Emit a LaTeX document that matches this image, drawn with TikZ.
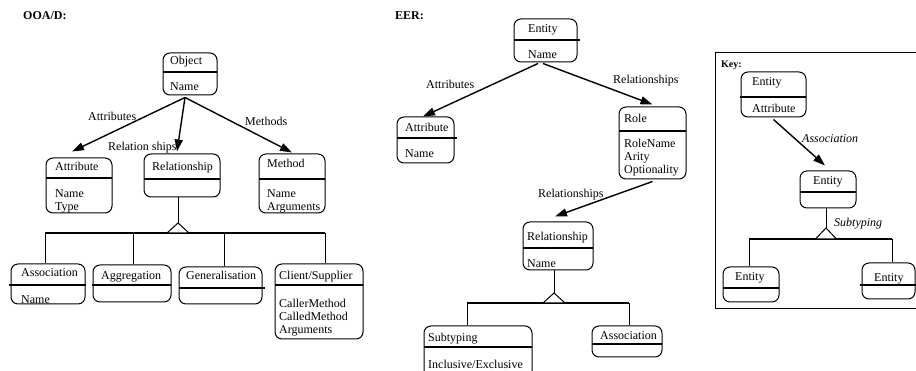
\documentclass[tikz,border=0pt]{standalone}
\usepackage{fontspec}
\setmainfont{Liberation Serif}
\usetikzlibrary{arrows.meta}
\tikzset{
 box/.style={draw, rounded corners=7pt, line width=1pt, inner sep=0pt},
 divider/.style={line width=2pt},
 lbl/.style={anchor=base west, inner sep=0pt, font=\fontsize{12}{13}\selectfont},
 title/.style={lbl, font=\bfseries\fontsize{12}{13}\selectfont},
 conn/.style={line width=1.4pt, -{Triangle[length=12pt,width=8pt]}},
 tree/.style={line width=1pt},
 bar/.style={line width=2pt},
 tri/.style={line width=1pt, fill=white},
}
\newcommand\ubox[5]{\node[box, minimum width={#4-#2}, minimum height={#5-#3}] (#1) at ({(#2+#4)/2},{(#3+#5)/2}) {};}
\begin{document}
\begin{tikzpicture}[x=1pt,y=-1pt]
\useasboundingbox (0,0) rectangle (916,371);
% ---------------- OOA/D
\node[title] (tooa) at (23,20) {OOA/D:};
\ubox{obj}{163}{53}{217}{95}
\draw[divider] (163,72) -- (217,72);
\node[lbl] (tobj) at (170,65) {Object};
\node[lbl] (tobjn) at (170,91) {Name};
\ubox{attr}{46}{158}{112}{213}
\draw[divider] (46,178) -- (112,178);
\node[lbl] (tattr) at (55,171) {Attribute};
\node[lbl] (tattra) at (55,198) {Name};
\node[lbl] (tattrb) at (55,211) {Type};
\ubox{rel}{144}{154}{220}{197}
\draw[divider] (144,179) -- (220,179);
\node[lbl] (trel) at (152,171) {Relationship};
\ubox{meth}{259}{154}{325}{213}
\draw[divider] (259,179) -- (325,179);
\node[lbl] (tmeth) at (267,168) {Method};
\node[lbl] (tmetha) at (267,198) {Name};
\node[lbl] (tmethb) at (267,211) {Arguments};
\ubox{assoc}{11}{264}{85}{304}
\draw[divider] (9,285) -- (86,285);
\node[lbl] (tassoc) at (21,277) {Association};
\node[lbl] (tassocn) at (21,304) {Name};
\ubox{aggr}{93}{265}{171}{302}
\draw[divider] (92,285) -- (171,285);
\node[lbl] (taggr) at (101,280) {Aggregation};
\ubox{gen}{179}{267}{262}{304}
\draw[divider] (179,288) -- (265,288);
\node[lbl] (tgen) at (186,280) {Generalisation};
\ubox{client}{275}{264}{363}{339}
\draw[divider] (275,285) -- (363,285);
\node[lbl] (tclient) at (279,280) {Client/Supplier};
\node[lbl] (tclienta) at (279,308) {CallerMethod};
\node[lbl] (tclientb) at (279,321) {CalledMethod};
\node[lbl] (tclientc) at (279,334) {Arguments};
\draw[conn] ([xshift=-5pt,yshift=-2pt]obj.south) -- ([xshift=-7pt,yshift=6pt]attr.north);
\draw[conn] ([xshift=-5pt,yshift=-2pt]obj.south) -- ([xshift=-5pt,yshift=2pt]rel.north);
\draw[conn] ([xshift=-5pt,yshift=-2pt]obj.south) -- ([yshift=1pt]meth.north);
\node[lbl] (lattr) at (88,121) {Attributes};
\node[lbl] (lrel) at (108,151) {Relation ships};
\node[lbl] (lmeth) at (245,126) {Methods};
\coordinate (apex1) at (178,223);
\coordinate (bar1L) at (45,233);
\coordinate (bar1b) at (133,233);
\coordinate (bar1c) at (224,233);
\coordinate (bar1R) at (325,233);
\draw[tree] ([xshift=-4pt]rel.south) -- (apex1);
\draw[bar] (bar1L) -- (bar1R);
\draw[tri] (apex1) -- ++(-11,10) -- ++(22,0) -- cycle;
\draw[tree] (bar1L) -- (bar1L |- assoc.north);
\draw[tree] (bar1b) -- (bar1b |- aggr.north);
\draw[tree] (bar1c) -- (bar1c |- gen.north);
\draw[tree] (bar1R) -- (bar1R |- client.north);
% ---------------- EER
\node[title] (teer) at (395,20) {EER:};
\ubox{ent}{514}{19}{577}{62}
\draw[divider] (514,40) -- (580,40);
\node[lbl] (tent) at (528,33) {Entity};
\node[lbl] (tentn) at (528,59) {Name};
\ubox{eattr}{397}{117}{454}{163}
\draw[divider] (397,138) -- (457,138);
\node[lbl] (teattr) at (405,132) {Attribute};
\node[lbl] (teattrn) at (405,158) {Name};
\ubox{role}{619}{107}{686}{179}
\draw[divider] (619,131) -- (686,131);
\node[lbl] (trole) at (624,123) {Role};
\node[lbl] (trolea) at (624,148) {RoleName};
\node[lbl] (troleb) at (624,161) {Arity};
\node[lbl] (trolec) at (624,174) {Optionality};
\ubox{erel}{523}{222}{593}{270}
\draw[divider] (523,248) -- (593,248);
\node[lbl] (terel) at (527,241) {Relationship};
\node[lbl] (tereln) at (527,268) {Name};
\ubox{subt}{424}{326}{532}{378}
\draw[divider] (424,347) -- (532,347);
\node[lbl] (tsubt) at (428,342) {Subtyping};
\node[lbl] (tsubtn) at (428,369) {Inclusive/Exclusive};
\ubox{eassoc}{592}{326}{662}{357}
\draw[divider] (592,344) -- (662,344);
\node[lbl] (teassoc) at (600,340) {Association};
\draw[conn] ([xshift=-7.5pt,yshift=-1pt]ent.south) -- ([xshift=-2.5pt]eattr.north);
\draw[conn] ([xshift=-2.5pt,yshift=-1pt]ent.south) -- ([yshift=2pt]role.north);
\draw[conn] ([yshift=-2pt]role.south) -- ([xshift=-3pt,yshift=5pt]erel.north);
\node[lbl] (leattr) at (426,89) {Attributes};
\node[lbl] (lerole) at (613,84) {Relationships};
\node[lbl] (lerel) at (538,198) {Relationships};
\coordinate (apex2) at (554,293);
\coordinate (bar2L) at (467,303);
\coordinate (bar2R) at (629,303);
\draw[tree] ([xshift=-4pt]erel.south) -- (apex2);
\draw[bar] (bar2L) -- (bar2R);
\draw[tri] (apex2) -- ++(-11,10) -- ++(22,0) -- cycle;
\draw[tree] (bar2L) -- (bar2L |- subt.north);
\draw[tree] (bar2R) -- (bar2R |- eassoc.north);
% ---------------- Key
\draw[line width=1pt] (925,53) -- (715,53) -- (715,309) -- (925,309);
\node[title, font=\bfseries\fontsize{10}{12}\selectfont] (tkey) at (721,68) {Key:};
\ubox{kone}{741}{72}{806}{117}
\draw[divider] (740,97) -- (806,97);
\node[lbl] (tkone) at (752,86) {Entity};
\node[lbl] (tkonea) at (752,113) {Attribute};
\ubox{ktwo}{800}{171}{856}{208}
\draw[divider] (800,192) -- (856,192);
\node[lbl] (tktwo) at (813,185) {Entity};
\ubox{kthree}{723}{267}{779}{302}
\draw[divider] (723,288) -- (779,288);
\node[lbl] (tkthree) at (735,281) {Entity};
\ubox{kfour}{862}{263}{915}{299}
\draw[divider] (860,285) -- (916,285);
\node[lbl] (tkfour) at (874,282) {Entity};
\draw[conn] ([yshift=-2pt]kone.south) -- ([xshift=-3pt,yshift=5pt]ktwo.north);
\node[lbl, font=\itshape\fontsize{12}{13}\selectfont] (lkassoc) at (802,143) {Association};
\node[lbl, font=\itshape\fontsize{12}{13}\selectfont] (lksub) at (834,227) {Subtyping};
\coordinate (apex3) at (826,228);
\coordinate (bar3L) at (749,239);
\coordinate (bar3R) at (892,239);
\draw[tree] ([xshift=-2pt]ktwo.south) -- (apex3);
\draw[bar] (bar3L) -- (bar3R);
\draw[tri] (apex3) -- ++(-10.5,11) -- ++(21,0) -- cycle;
\draw[tree] (bar3L) -- (bar3L |- kthree.north);
\draw[tree] (bar3R) -- (bar3R |- kfour.north);
\end{tikzpicture}
\end{document}
